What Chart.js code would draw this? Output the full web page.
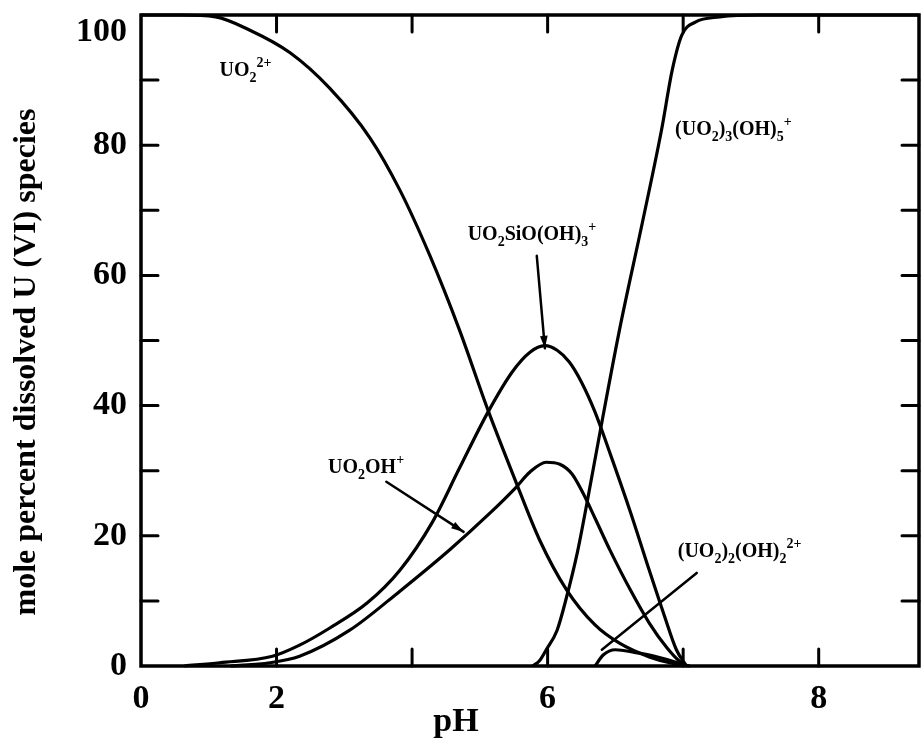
<!DOCTYPE html>
<html>
<head>
<meta charset="utf-8">
<script src="https://cdn.jsdelivr.net/npm/chart.js@4.4.0/dist/chart.umd.min.js"></script>
<style>
  html, body { margin: 0; padding: 0; background: #fff; }
  canvas { display: block; filter: blur(0.4px); }
</style>
</head>
<body>
<canvas id="speciation" width="921" height="748"></canvas>
<script>
// x runs one unit per tick mark along the pH axis, y is mole percent
const xTickLabels = ['0', '2', '', '6', '', '8'];
const yStep = 20;

// UO2 2+
const uo2X = [0, 0.29, 0.55, 0.80, 1.10, 1.39, 1.69, 1.91, 2.13, 2.35, 2.56, 2.76, 2.94, 3.14, 3.35, 3.53, 3.75, 3.94, 4.05];
const uo2Y = [100, 100, 99.7, 97.7, 94.2, 88.8, 81.1, 73.1, 63.1, 51.6, 39.3, 28.6, 19.4, 11.7, 6.3, 3.5, 1.4, 0.3, 0];

// UO2SiO(OH)3 +
const siX = [0.32, 0.58, 0.97, 1.17, 1.39, 1.67, 1.91, 2.15, 2.35, 2.56, 2.74, 2.87, 2.98, 3.07, 3.16, 3.25, 3.35, 3.46, 3.61, 3.75, 3.86, 3.95, 4.02];
const siY = [0, 0.5, 1.5, 3.2, 5.8, 9.7, 14.7, 22.1, 30.4, 39.0, 45.2, 48.2, 49.2, 48.5, 46.7, 43.6, 39.0, 32.7, 23.7, 14.7, 7.8, 2.5, 0.15];

// UO2OH +
const ohX = [0.66, 0.95, 1.17, 1.54, 1.91, 2.28, 2.57, 2.76, 2.87, 2.99, 3.09, 3.18, 3.26, 3.35, 3.46, 3.61, 3.75, 3.88, 3.98, 4.03];
const ohY = [0, 0.5, 1.5, 5.5, 11.5, 17.9, 23.4, 27.3, 29.8, 31.3, 31.0, 29.5, 26.6, 22.7, 17.8, 11.7, 6.6, 2.8, 0.6, 0];

// (UO2)3(OH)5 +
const trimerX = [2.89, 2.94, 2.99, 3.07, 3.14, 3.22, 3.29, 3.39, 3.53, 3.70, 3.84, 3.92, 3.99, 4.09, 4.27, 4.57, 5.74];
const trimerY = [0, 0.8, 2.5, 5.5, 10.6, 17.5, 25.0, 36.3, 51.6, 68.2, 82.3, 91.6, 96.9, 98.9, 99.7, 100, 100];

// (UO2)2(OH)2 2+
const dimerX = [3.35, 3.41, 3.50, 3.64, 3.79, 3.94, 4.01];
const dimerY = [0, 1.7, 2.5, 2.1, 1.5, 0.6, 0];

const speciesLabels = [
  { at: [0.58, 90.6], parts: [['UO', 'n'], ['2', 'sub'], ['2+', 'sup']] },
  { at: [3.94, 81.6], parts: [['(UO', 'n'], ['2', 'sub'], [')', 'n'], ['3', 'sub'], ['(OH)', 'n'], ['5', 'sub'], ['+', 'sup']] },
  { at: [2.41, 65.4], parts: [['UO', 'n'], ['2', 'sub'], ['SiO(OH)', 'n'], ['3', 'sub'], ['+', 'sup']] },
  { at: [1.38, 29.6], parts: [['UO', 'n'], ['2', 'sub'], ['OH', 'n'], ['+', 'sup']] },
  { at: [3.96, 16.7], parts: [['(UO', 'n'], ['2', 'sub'], [')', 'n'], ['2', 'sub'], ['(OH)', 'n'], ['2', 'sub'], ['2+', 'sup']] }
];

// pointer lines: from, to, arrow head or not
const pointers = [
  { from: [2.92, 63.0], to: [2.98, 48.8], head: true },
  { from: [1.81, 28.3], to: [2.38, 20.6], head: true },
  { from: [4.10, 14.3], to: [3.40, 2.5], head: false }
];

const toPoints = (xs, ys) => xs.map((x, i) => ({ x: x, y: ys[i] }));

const serif = 'Liberation Serif';

function drawRich(ctx, parts, px, py, size) {
  let cx = px;
  parts.forEach(([txt, kind]) => {
    const s = kind === 'n' ? size : Math.round(size * 0.72);
    const dy = kind === 'sub' ? size * 0.3 : kind === 'sup' ? -size * 0.45 : 0;
    ctx.font = `bold ${s}px "${serif}"`;
    ctx.fillText(txt, cx, py + dy);
    cx += ctx.measureText(txt).width;
  });
}

const frameAndNotes = {
  id: 'frameAndNotes',
  afterDraw(chart) {
    const { ctx, chartArea: a, scales: { x, y } } = chart;
    ctx.save();
    ctx.strokeStyle = '#000';
    ctx.fillStyle = '#000';
    ctx.lineWidth = 3.5;
    ctx.lineCap = 'round';
    ctx.strokeRect(a.left, a.top, a.right - a.left, a.bottom - a.top);

    // inward tick marks on all four sides
    const len = 17;
    ctx.lineWidth = 3;
    ctx.beginPath();
    for (let v = 10; v < 100; v += 10) {
      const py = y.getPixelForValue(v);
      ctx.moveTo(a.left, py); ctx.lineTo(a.left + len, py);
      ctx.moveTo(a.right, py); ctx.lineTo(a.right - len, py);
    }
    for (let i = 1; i < xTickLabels.length; i++) {
      const px = x.getPixelForValue(i);
      ctx.moveTo(px, a.top); ctx.lineTo(px, a.top + len);
      ctx.moveTo(px, a.bottom); ctx.lineTo(px, a.bottom - len);
    }
    ctx.stroke();

    // pointer lines
    ctx.lineWidth = 2.5;
    pointers.forEach(p => {
      const x0 = x.getPixelForValue(p.from[0]), y0 = y.getPixelForValue(p.from[1]);
      const x1 = x.getPixelForValue(p.to[0]), y1 = y.getPixelForValue(p.to[1]);
      ctx.beginPath();
      ctx.moveTo(x0, y0); ctx.lineTo(x1, y1);
      ctx.stroke();
      if (p.head) {
        const ang = Math.atan2(y1 - y0, x1 - x0);
        ctx.beginPath();
        ctx.moveTo(x1, y1);
        ctx.lineTo(x1 - 13 * Math.cos(ang - 0.3), y1 - 13 * Math.sin(ang - 0.3));
        ctx.lineTo(x1 - 13 * Math.cos(ang + 0.3), y1 - 13 * Math.sin(ang + 0.3));
        ctx.closePath();
        ctx.fill();
      }
    });

    // species names
    ctx.textAlign = 'left';
    ctx.textBaseline = 'alphabetic';
    speciesLabels.forEach(l => {
      drawRich(ctx, l.parts, x.getPixelForValue(l.at[0]), y.getPixelForValue(l.at[1]), 20);
    });

    // axis titles
    ctx.textAlign = 'center';
    ctx.textBaseline = 'middle';
    ctx.font = `bold 34px "${serif}"`;
    ctx.fillText('pH', 456, 722);
    ctx.translate(27, 362);
    ctx.rotate(-Math.PI / 2);
    ctx.font = `bold 32px "${serif}"`;
    ctx.fillText('mole percent dissolved U (VI) species', 0, 0);
    ctx.restore();
  }
};

const line = (pts) => ({
  data: pts,
  borderColor: '#000',
  borderWidth: 3.2,
  pointRadius: 0,
  fill: false,
  cubicInterpolationMode: 'monotone',
  clip: false
});

const tickFont = { family: serif, size: 34, weight: 'bold', lineHeight: 1.0 };

new Chart(document.getElementById('speciation'), {
  type: 'line',
  data: {
    datasets: [
      line(toPoints(uo2X, uo2Y)),
      line(toPoints(siX, siY)),
      line(toPoints(ohX, ohY)),
      line(toPoints(trimerX, trimerY)),
      line(toPoints(dimerX, dimerY))
    ]
  },
  options: {
    responsive: false,
    animation: false,
    layout: { padding: { top: 15, right: 2, left: 0, bottom: 0 } },
    plugins: { legend: { display: false }, tooltip: { enabled: false } },
    scales: {
      x: {
        type: 'linear',
        min: 0,
        max: 5.74,
        afterBuildTicks: s => { s.ticks = xTickLabels.map((_, i) => ({ value: i })); },
        afterFit: s => { s.height = 82; s.paddingLeft = 0; s.paddingRight = 0; },
        ticks: {
          autoSkip: false,
          maxRotation: 0,
          padding: 8,
          color: '#000',
          font: tickFont,
          callback: v => xTickLabels[v]
        },
        grid: { display: false },
        border: { display: false }
      },
      y: {
        min: 0,
        max: 100,
        afterFit: s => { s.width = 141; s.paddingTop = 0; s.paddingBottom = 0; },
        ticks: {
          stepSize: yStep,
          padding: 6,
          color: '#000',
          font: tickFont,
          // the top label sits just below the frame corner
          callback: v => (v === 100 ? ['', '100'] : v)
        },
        grid: { display: false },
        border: { display: false }
      }
    }
  },
  plugins: [frameAndNotes]
});
</script>
</body>
</html>
